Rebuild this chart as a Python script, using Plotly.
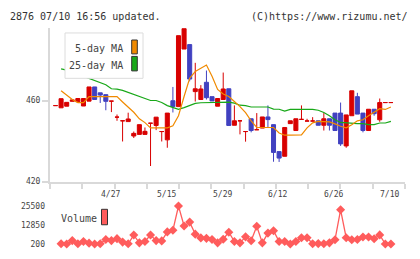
import plotly.graph_objects as go
import numpy as np

W, H = 420, 259

# ---------------- data ----------------
# candle index (-1 .. 59), 2020-04-13 .. 2020-07-10 trading days
opens  = [457.5, 456.4, 457.2, 459.6, 459.4, 457.3, 459.7, 466.7, 463.8, 462.9,
          459.7, 451.8, 450.0, 449.6, 442.5, 443.3, 443.3, 448.8, 447.7, 444.7,
          440.6, 459.9, 457.0, 485.4, 487.6, 464.4, 460.5, 469.0, 461.9, 457.2,
          460.5, 465.8, 447.8, 450.0, 444.7, 451.0, 445.6, 446.4, 451.9, 448.1,
          434.8, 432.5, 448.6, 445.2, 450.7, 449.9, 449.9, 450.0, 447.8, 451.0,
          453.8, 453.8, 437.6, 452.5, 461.9, 453.8, 445.2, 455.7, 450.5, 459.0,
          459.0]
highs  = [457.5, 460.9, 459.1, 460.3, 461.0, 461.0, 466.7, 466.7, 463.8, 462.9,
          459.7, 453.1, 450.0, 454.0, 444.7, 448.1, 446.7, 448.8, 451.8, 444.7,
          453.8, 466.7, 492.0, 495.5, 487.6, 478.6, 467.6, 474.8, 461.9, 461.0,
          473.8, 465.8, 457.6, 450.0, 444.7, 451.0, 453.8, 451.9, 457.6, 448.1,
          434.8, 446.7, 450.0, 451.0, 457.6, 451.0, 451.8, 450.0, 453.8, 451.0,
          453.8, 459.0, 452.9, 464.8, 463.8, 453.8, 455.7, 455.7, 461.0, 459.0,
          459.0]
lows   = [457.5, 456.4, 457.2, 459.6, 459.4, 457.3, 459.7, 460.5, 458.8, 455.2,
          454.3, 450.0, 439.8, 449.6, 441.5, 443.3, 443.3, 427.7, 445.4, 439.8,
          436.7, 454.1, 457.0, 485.4, 469.5, 459.5, 460.5, 460.5, 459.8, 457.2,
          460.5, 447.7, 447.8, 443.3, 439.7, 444.3, 445.6, 446.4, 446.5, 429.8,
          429.7, 432.5, 448.6, 445.2, 450.7, 449.9, 449.9, 447.8, 445.2, 445.2,
          445.2, 437.6, 436.7, 452.5, 453.3, 444.3, 445.2, 452.5, 449.5, 459.0,
          459.0]
closes = [457.5, 460.9, 459.1, 460.3, 461.0, 461.0, 466.7, 460.5, 462.7, 459.6,
          459.7, 451.8, 450.0, 450.9, 443.8, 448.1, 444.8, 448.8, 451.8, 444.7,
          453.8, 457.0, 492.0, 495.5, 470.6, 465.8, 465.7, 461.4, 459.8, 461.0,
          465.7, 447.7, 450.0, 450.0, 444.7, 445.2, 445.6, 451.9, 450.6, 434.4,
          431.6, 446.7, 450.0, 451.0, 450.7, 449.9, 449.9, 447.8, 451.0, 447.8,
          445.2, 438.6, 452.9, 464.8, 453.3, 445.2, 455.7, 453.5, 459.0, 459.0,
          459.0]
candle_idx = list(range(-1, 60))

# moving averages (index 0 .. 59)
ma5 = [464.8, 462.5, 460.5, 459.0, 459.0, 461.9, 461.9, 461.9, 461.9, 461.9,
       461.9, 459.3, 456.8, 454.2, 451.0, 449.1, 446.5, 446.5, 446.5, 446.5,
       447.5, 452.5, 462.0, 471.0, 474.3, 476.0, 477.5, 472.0, 465.5, 463.2,
       462.0, 459.5, 457.0, 454.0, 450.0, 446.7, 446.7, 446.7, 446.7, 444.0,
       442.9, 442.9, 442.9, 443.0, 446.5, 449.0, 449.7, 449.7, 449.5, 448.5,
       447.3, 446.5, 448.0, 450.0, 450.5, 452.5, 454.2, 456.0, 455.6, 456.8]
ma25 = [475.6, 475.0, 474.0, 473.0, 472.0, 470.8, 469.7, 468.7, 467.8, 465.8,
        465.6, 465.0, 464.0, 463.2, 462.3, 461.0, 460.0, 460.0, 459.0, 457.5,
        456.5, 455.6, 456.5, 457.5, 458.6, 458.9, 458.9, 458.9, 458.9, 458.9,
        459.2, 458.7, 457.7, 457.5, 456.8, 456.8, 456.8, 456.8, 455.8, 455.7,
        454.8, 455.6, 455.7, 455.7, 455.7, 455.6, 455.2, 454.1, 452.5, 450.5,
        449.2, 448.9, 448.9, 448.6, 448.6, 448.1, 448.1, 448.9, 448.9, 449.7]
volume = [400, 200, 2500, 400, 1900, 800, 200, 400, 3200, 2500,
          3800, 1500, 400, 6200, 1000, 1900, 6200, 2500, 2300, 8300,
          9400, 25500, 12200, 14800, 6800, 4300, 4000, 3200, 1000, 3400,
          8100, 1900, 1000, 5000, 2400, 12000, 1000, 7500, 9100, 1900,
          1900, 200, 1900, 4400, 4400, 400, 500, 400, 1000, 3100,
          23000, 4400, 3100, 3200, 4900, 4900, 3700, 6300, 200, 200]
series_idx = list(range(0, 60))

date_labels = ["4/27", "5/15", "5/29", "6/12", "6/26", "7/10"]
price_ticks = [420, 460]

# ---------------- style ----------------
RED = "#d80000"
BLUE = "#4141c0"
ORANGE = "#f08a00"
GREEN = "#18a818"
VOLC = "#ff5c5c"
AX = "#d9d9d9"
TXT = "#444444"
MONO = "DejaVu Sans Mono, Liberation Mono, monospace"

def px(x):
    return x / W

def py(y):
    return 1 - y / H

X_LEFT, X_RIGHT = 50, 405
P_TOP, P_BOT = 25, 184
V_TOP, V_BOT = 209.3, 248.7
step = 5.59
x_first = 61.1
xr0 = (X_LEFT - x_first) / step
xr1 = (X_RIGHT - x_first) / step
ppu = 2.1
yr0 = 420
yr1 = 420 + (P_BOT - P_TOP) / ppu

fig = go.Figure()

up = [k for k in range(len(candle_idx)) if closes[k] >= opens[k]]
dn = [k for k in range(len(candle_idx)) if closes[k] < opens[k]]
for sel, col in ((up, RED), (dn, BLUE)):
    fig.add_trace(go.Candlestick(
        x=[candle_idx[k] for k in sel],
        open=[opens[k] for k in sel], high=[highs[k] for k in sel],
        low=[lows[k] for k in sel], close=[closes[k] for k in sel],
        increasing=dict(line=dict(color=col, width=1), fillcolor=col),
        decreasing=dict(line=dict(color=col, width=1), fillcolor=col),
        whiskerwidth=0, hoverinfo="skip", showlegend=False,
        xaxis="x", yaxis="y"))

fig.add_trace(go.Scatter(x=series_idx, y=ma25, mode="lines",
                         line=dict(color=GREEN, width=1.2), showlegend=False,
                         hoverinfo="skip", xaxis="x", yaxis="y"))
fig.add_trace(go.Scatter(x=series_idx, y=ma5, mode="lines",
                         line=dict(color=ORANGE, width=1.2), showlegend=False,
                         hoverinfo="skip", xaxis="x", yaxis="y"))

fig.add_trace(go.Scatter(x=series_idx, y=volume, mode="lines+markers",
                         line=dict(color=VOLC, width=1.3),
                         marker=dict(symbol="diamond", size=7, color=VOLC),
                         cliponaxis=False, showlegend=False, hoverinfo="skip",
                         xaxis="x2", yaxis="y2"))

vmin, vmax = min(volume), max(volume)
vmid = (vmin + vmax) / 2

fig.update_layout(
    width=W, height=H, margin=dict(l=0, r=0, t=0, b=0),
    paper_bgcolor="white", plot_bgcolor="white",
    boxgap=0.15, boxgroupgap=0.15,
    xaxis=dict(domain=[px(X_LEFT), px(X_RIGHT)], range=[xr0, xr1],
               showline=True, linecolor=AX, linewidth=2,
               ticks="outside", tickvals=list(np.linspace(xr0, xr1, 12)),
               ticklen=5, tickwidth=2, tickcolor=AX, showticklabels=False,
               showgrid=False, zeroline=False, rangeslider=dict(visible=False),
               anchor="y"),
    yaxis=dict(domain=[py(P_BOT), py(P_TOP)], range=[yr0, yr1],
               showline=True, linecolor=AX, linewidth=2,
               ticks="outside", tickvals=price_ticks, ticklen=6, tickwidth=2,
               tickcolor=AX, tickfont=dict(family=MONO, size=8, color=TXT),
               showgrid=False, zeroline=False, anchor="x"),
    xaxis2=dict(domain=[px(X_LEFT), px(X_RIGHT)], range=[xr0, xr1],
                visible=False, anchor="y2"),
    yaxis2=dict(domain=[py(V_BOT), py(V_TOP)], range=[vmin, vmax],
                tickvals=[vmin, vmid, vmax],
                ticktext=[f"{int(v)}" for v in (vmin, vmid, vmax)],
                ticks="", showline=False, showgrid=False, zeroline=False,
                tickfont=dict(family=MONO, size=8, color=TXT),
                ticklabelstandoff=4, anchor="x2"),
)

shapes = []
annotations = []
# header
annotations.append(dict(x=px(8), y=py(12.7), xref="paper", yref="paper",
                        text="2876 07/10 16:56 updated.", showarrow=False,
                        xanchor="left", yanchor="middle",
                        font=dict(family=MONO, size=10, color="#333")))
annotations.append(dict(x=px(410), y=py(12.7), xref="paper", yref="paper",
                        text="(C)https://www.rizumu.net/", showarrow=False,
                        xanchor="right", yanchor="middle",
                        font=dict(family=MONO, size=10, color="#333")))
# date labels
for k, lab in enumerate(date_labels):
    annotations.append(dict(x=9 + 10 * k - 0.2, y=py(197.3), xref="x", yref="paper",
                            text=lab, showarrow=False, xanchor="center",
                            yanchor="middle",
                            font=dict(family=MONO, size=8, color=TXT)))
# price legend box
shapes.append(dict(type="rect", xref="paper", yref="paper",
                   x0=px(65), x1=px(143), y0=py(77), y1=py(30),
                   line=dict(color="#dcdcdc", width=1), fillcolor="white",
                   layer="above"))
for txt, col, yc, y0, y1 in (("5-day MA", ORANGE, 46, 37.3, 51.7),
                             ("25-day MA", GREEN, 63.3, 54.3, 69.3)):
    annotations.append(dict(x=px(124.5), y=py(yc), xref="paper", yref="paper",
                            text=txt, showarrow=False, xanchor="right",
                            yanchor="middle",
                            font=dict(family=MONO, size=10, color=TXT)))
    shapes.append(dict(type="rect", xref="paper", yref="paper",
                       x0=px(131.7), x1=px(137.3), y0=py(y1), y1=py(y0),
                       line=dict(color="#333", width=1), fillcolor=col,
                       layer="above"))
# volume legend
annotations.append(dict(x=px(58.7), y=py(222.3), xref="paper", yref="paper",
                        text="Volume", showarrow=False, xanchor="left",
                        yanchor="middle",
                        font=dict(family=MONO, size=10, color=TXT)))
shapes.append(dict(type="rect", xref="paper", yref="paper",
                   x0=px(101.5), x1=px(107.5), y0=py(228.7), y1=py(212.7),
                   line=dict(color="#333", width=1), fillcolor=VOLC,
                   layer="above"))

fig.update_layout(shapes=shapes, annotations=annotations)
fig.write_html("out.html")
